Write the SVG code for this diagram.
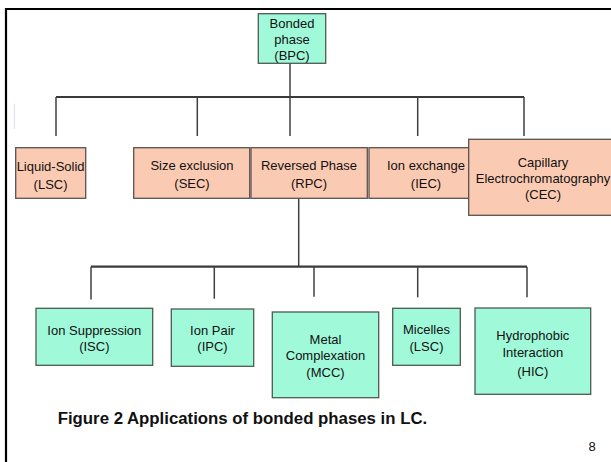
<svg xmlns="http://www.w3.org/2000/svg" width="611" height="462" viewBox="0 0 611 462">
<style>
  .t { font-family: "Liberation Sans", Arial, sans-serif; font-size: 13px; fill: #111; text-anchor: middle; }
  .g { fill: #a0f9d9; stroke: #4d5a55; stroke-width: 1.3; }
  .s { fill: #fbcab2; stroke: #5a5250; stroke-width: 1.3; }
  .bus { stroke: #3a3a3a; stroke-width: 2.2; fill: none; }
  .drop { stroke: #3f3f3f; stroke-width: 1.5; fill: none; }
</style>
<rect x="0" y="0" width="611" height="462" fill="#ffffff"/>
<!-- frame -->
<path d="M6,462 V9 H611" fill="none" stroke="#000" stroke-width="2.2"/>
<line x1="14.3" y1="104" x2="14.3" y2="129" stroke="#e2ddf0" stroke-width="1"/>

<g id="connectors">
  <line class="drop" x1="290" y1="63" x2="290" y2="97"/>
  <line class="bus" x1="56" y1="97" x2="524" y2="97"/>
  <line class="drop" x1="56" y1="97" x2="56" y2="136"/>
  <line class="drop" x1="197.3" y1="97" x2="197.3" y2="136"/>
  <line class="drop" x1="290" y1="97" x2="290" y2="136"/>
  <line class="drop" x1="417.7" y1="97" x2="417.7" y2="136"/>
  <line class="drop" x1="524" y1="97" x2="524" y2="136"/>

  <line class="drop" x1="298.7" y1="198.3" x2="298.7" y2="266.7"/>
  <line class="bus" x1="91" y1="266.7" x2="527" y2="266.7"/>
  <line class="drop" x1="91" y1="266.7" x2="91" y2="299.4"/>
  <line class="drop" x1="214.3" y1="266.7" x2="214.3" y2="298.7"/>
  <line class="drop" x1="314" y1="266.7" x2="314" y2="296.7"/>
  <line class="drop" x1="417.7" y1="266.7" x2="417.7" y2="297.3"/>
  <line class="drop" x1="527" y1="266.7" x2="527" y2="297.3"/>
</g>

<g id="BPC">
  <rect class="g" x="258.3" y="13.7" width="67.4" height="49.6"/>
  <text class="t" x="292" y="27.5">Bonded</text>
  <text class="t" x="292" y="43.5">phase</text>
  <text class="t" x="292" y="60">(BPC)</text>
</g>

<g id="LSC">
  <rect class="s" x="15.7" y="147.7" width="70" height="50.6"/>
  <text class="t" x="50.6" y="170.5">Liquid-Solid</text>
  <text class="t" x="50.6" y="188.5">(LSC)</text>
</g>
<g id="SEC">
  <rect class="s" x="133.7" y="147.7" width="116" height="50.6"/>
  <text class="t" x="192" y="170">Size exclusion</text>
  <text class="t" x="192" y="188">(SEC)</text>
</g>
<g id="RPC">
  <rect class="s" x="251" y="147.7" width="116.3" height="50.6"/>
  <text class="t" x="309" y="170">Reversed Phase</text>
  <text class="t" x="309" y="188">(RPC)</text>
</g>
<g id="IEC">
  <rect class="s" x="369" y="147.7" width="100" height="50.6"/>
  <text class="t" x="426" y="170">Ion exchange</text>
  <text class="t" x="426" y="188">(IEC)</text>
</g>
<g id="CEC">
  <rect class="s" x="468.7" y="139.3" width="150" height="76"/>
  <text class="t" x="543" y="167.3">Capillary</text>
  <text class="t" x="543" y="183.3">Electrochromatography</text>
  <text class="t" x="543" y="199.3">(CEC)</text>
</g>

<g id="ISC">
  <rect class="g" x="36" y="308.3" width="116.7" height="57"/>
  <text class="t" x="94.3" y="334.5">Ion Suppression</text>
  <text class="t" x="94.3" y="351">(ISC)</text>
</g>
<g id="IPC">
  <rect class="g" x="171.3" y="309" width="82.4" height="57.3"/>
  <text class="t" x="212.5" y="334.5">Ion Pair</text>
  <text class="t" x="212.5" y="351">(IPC)</text>
</g>
<g id="MCC">
  <rect class="g" x="272.3" y="312" width="106.4" height="85.7"/>
  <text class="t" x="325.5" y="344">Metal</text>
  <text class="t" x="325.5" y="360">Complexation</text>
  <text class="t" x="325.5" y="376.5">(MCC)</text>
</g>
<g id="Micelles">
  <rect class="g" x="392.7" y="308.3" width="67.6" height="57"/>
  <text class="t" x="426.5" y="334">Micelles</text>
  <text class="t" x="426.5" y="351">(LSC)</text>
</g>
<g id="HIC">
  <rect class="g" x="475" y="308" width="115.7" height="86.3"/>
  <text class="t" x="532.8" y="340">Hydrophobic</text>
  <text class="t" x="532.8" y="356.5">Interaction</text>
  <text class="t" x="532.8" y="375.5">(HIC)</text>
</g>

<text x="57.7" y="424" font-family="'Liberation Sans', Arial, sans-serif" font-size="16.8" font-weight="bold" fill="#111">Figure 2 Applications of bonded phases in LC.</text>
<text x="592" y="451" font-family="'Liberation Sans', Arial, sans-serif" font-size="13" fill="#111" text-anchor="middle">8</text>
</svg>
